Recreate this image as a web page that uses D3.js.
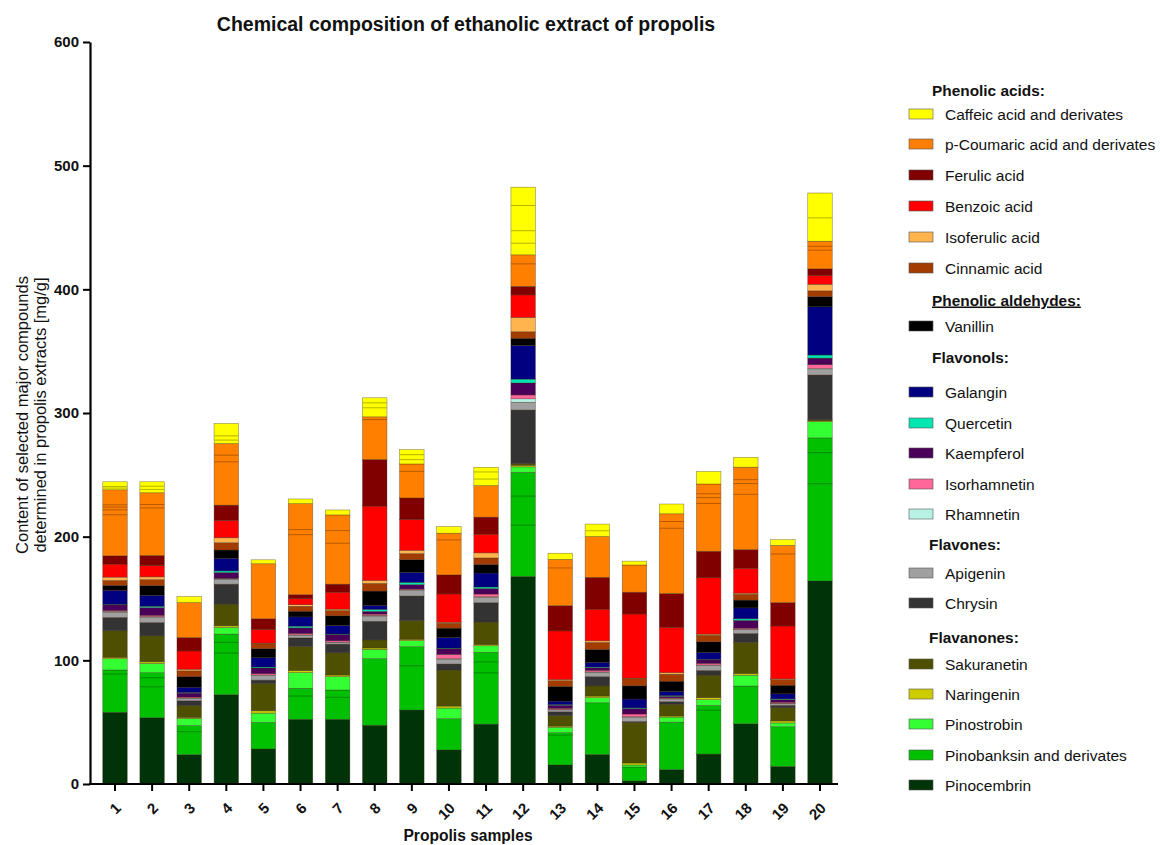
<!DOCTYPE html>
<html><head><meta charset="utf-8">
<script src="https://cdn.jsdelivr.net/npm/d3@7"></script>
<style>
body{margin:0;background:#fff}
text{font-family:"Liberation Sans",Arial,Helvetica,sans-serif;fill:#111}
</style>
</head><body>
<svg id="chart" width="1160" height="845"></svg>
<script>
// ---------- DATA ----------
const samples = ["1","2","3","4","5","6","7","8","9","10","11","12","13","14","15","16","17","18","19","20"];
const yTicks = [0,100,200,300,400,500,600];

const compounds = ["Caffeic acid and derivates","p-Coumaric acid and derivates","Ferulic acid","Benzoic acid","Isoferulic acid","Cinnamic acid","Vanillin","Galangin","Quercetin","Kaempferol","Isorhamnetin","Rhamnetin","Apigenin","Chrysin","Sakuranetin","Naringenin","Pinostrobin","Pinobanksin and derivates","Pinocembrin"];
const colors = ["#ffff00","#ff8000","#800000","#ff0000","#ffb44d","#a33c00","#000000","#000080","#00e6b0","#4a0058","#ff6699","#b8f2e4","#a0a0a0","#333333","#4f4f00","#cccc00","#33ff33","#00c000","#003308"];
const groups = ["Phenolic acids:","Phenolic aldehydes:","Flavonols:","Flavones:","Flavanones:"];

const caffeic      = [6.5,8.9,4.9,16.2,3.2,3.8,4.0,15.4,11.6,5.4,14.8,54.7,5.0,10.1,3.1,7.9,10.1,7.9,4.7,39.0];
const pCoumaric    = [53.4,50.7,28.3,49.8,44.5,73.6,56.0,34.5,27.5,33.7,25.5,25.5,37.4,33.0,22.0,64.5,54.4,66.7,46.2,22.3];
const ferulic      = [6.7,8.1,10.8,12.4,8.6,3.2,6.5,37.7,17.5,15.4,13.8,6.9,20.4,25.8,17.6,27.4,21.4,15.1,18.9,5.3];
const benzoic      = [10.5,9.2,14.8,14.0,11.1,4.9,13.7,60.1,24.8,22.9,15.1,18.2,39.3,25.5,51.9,36.5,45.6,20.1,42.8,7.2];
const isoferulic   = [2.7,2.2,1.3,4.0,0.5,1.3,1.1,2.4,2.7,0.8,4.1,11.6,0.9,1.3,0.5,1.3,0.9,0.9,0.5,5.3];
const cinnamic     = [4.0,4.9,4.6,5.9,4.0,4.0,4.3,6.2,4.9,4.0,5.3,5.3,4.7,5.7,5.7,5.7,5.3,4.7,4.7,4.7];
const vanillin     = [4.0,7.8,8.6,6.7,7.3,4.6,7.8,11.6,10.2,7.5,6.9,5.7,11.9,10.4,10.7,8.2,8.5,6.3,6.9,8.2];
const galangin     = [11.3,8.9,4.3,10.2,7.5,7.5,7.0,3.2,8.1,8.6,11.3,27.3,2.8,3.8,7.2,3.5,5.7,8.8,4.1,39.0];
const quercetin    = [0.5,1.1,0.5,1.3,0.8,1.3,0.5,1.6,1.9,0.5,1.3,3.1,0.5,0.5,0.5,0.5,0.5,1.3,0.5,2.5];
const kaempferol   = [4.5,6.2,3.2,4.6,4.6,4.6,4.9,2.2,3.5,4.6,4.4,9.7,2.5,2.2,4.4,1.3,2.8,6.3,2.2,5.3];
const isorhamnetin = [0.8,1.1,0.8,0.5,1.1,1.1,1.1,1.1,0.5,3.5,2.2,3.1,0.9,1.3,2.2,0.5,1.3,0.9,0.9,3.1];
const rhamnetin    = [0.5,0.4,0.3,0.3,0.3,0.3,0.3,0.4,0.3,0.5,0.4,2.8,0.3,0.3,0.3,0.3,0.3,0.3,0.3,0.9];
const apigenin     = [4.3,4.3,1.9,4.0,3.8,2.2,1.3,4.3,4.9,3.8,4.4,6.3,1.6,3.5,3.5,2.2,4.1,3.1,1.3,4.4];
const chrysin      = [10.8,10.8,4.0,16.2,2.7,7.0,7.0,15.1,19.9,4.9,15.7,43.4,3.1,7.5,0.9,2.2,3.8,7.2,1.9,36.2];
const sakuranetin  = [21.5,21.0,9.4,17.5,22.1,19.4,18.0,6.5,15.1,29.1,18.2,1.3,8.5,8.2,32.7,9.4,18.2,25.2,10.7,0.9];
const naringenin   = [1.1,1.3,0.8,1.3,1.9,1.6,1.3,1.1,1.1,1.6,0.9,1.3,0.9,1.3,1.6,0.9,1.6,1.3,1.6,0.5];
const pinostrobin  = [9.1,7.5,5.9,5.4,7.5,12.7,10.8,7.5,4.9,8.6,5.3,4.4,4.4,4.1,1.6,4.1,4.7,8.8,3.1,13.2];
const pinobanksin  = [34.2,36.4,23.5,49.0,21.5,25.1,23.7,53.9,51.2,25.3,58.1,84.2,26.1,41.8,11.3,38.4,39.3,30.5,32.1,115.7];
const pinocembrin  = [58.0,53.6,23.7,72.2,28.3,52.3,52.3,47.5,59.8,27.5,48.4,167.8,15.4,23.9,2.5,11.6,24.2,48.7,14.2,164.2];

const seriesValues = [caffeic,pCoumaric,ferulic,benzoic,isoferulic,cinnamic,vanillin,galangin,quercetin,kaempferol,isorhamnetin,rhamnetin,apigenin,chrysin,sakuranetin,naringenin,pinostrobin,pinobanksin,pinocembrin];

// cumulative amounts (from the bottom of a "derivates" segment) where its sub-components meet
// [sample, compound, [cumulative values]]
const derivateBreaks = [
  ["1","Caffeic acid and derivates",[1.4,2.7]],
  ["2","Caffeic acid and derivates",[2.7,5.3]],
  ["4","Caffeic acid and derivates",[2.8,6.2]],
  ["8","Caffeic acid and derivates",[7.3,11.3]],
  ["9","Caffeic acid and derivates",[3.5,7.5]],
  ["11","Caffeic acid and derivates",[5.3,11.0]],
  ["12","Caffeic acid and derivates",[9.4,19.5,39.9]],
  ["14","Caffeic acid and derivates",[4.7]],
  ["20","Caffeic acid and derivates",[18.9]],
  ["1","p-Coumaric acid and derivates",[33.2,37.2,39.4,41.2]],
  ["2","p-Coumaric acid and derivates",[38.4,41.2]],
  ["4","p-Coumaric acid and derivates",[35.0,40.4]],
  ["6","p-Coumaric acid and derivates",[48.5,52.6]],
  ["7","p-Coumaric acid and derivates",[33.1,43.3]],
  ["8","p-Coumaric acid and derivates",[32.3]],
  ["9","p-Coumaric acid and derivates",[21.5]],
  ["10","p-Coumaric acid and derivates",[28.3]],
  ["12","p-Coumaric acid and derivates",[18.2]],
  ["13","p-Coumaric acid and derivates",[30.5]],
  ["16","p-Coumaric acid and derivates",[52.8,58.2]],
  ["17","p-Coumaric acid and derivates",[38.7,43.4,46.5]],
  ["18","p-Coumaric acid and derivates",[44.7,53.5,56.6]],
  ["19","p-Coumaric acid and derivates",[39.3]],
  ["20","p-Coumaric acid and derivates",[15.1,18.2]],
  ["1","Pinobanksin and derivates",[31.0]],
  ["2","Pinobanksin and derivates",[25.0,32.3]],
  ["3","Pinobanksin and derivates",[18.6]],
  ["4","Pinobanksin and derivates",[33.7,42.3]],
  ["6","Pinobanksin and derivates",[18.8]],
  ["7","Pinobanksin and derivates",[17.8]],
  ["9","Pinobanksin and derivates",[35.8]],
  ["11","Pinobanksin and derivates",[41.5,50.3]],
  ["12","Pinobanksin and derivates",[41.5,65.0]],
  ["13","Pinobanksin and derivates",[24.2]],
  ["17","Pinobanksin and derivates",[35.5]],
  ["20","Pinobanksin and derivates",[78.6,103.8]]
];

// ---------- CHART ----------
const svg = d3.select("#chart");
const table = samples.map((s,i)=>{
  const row = {sample:s};
  compounds.forEach((c,k)=>{ row[c] = seriesValues[k][i]; });
  return row;
});
const stackKeys = compounds.slice().reverse(); // Pinocembrin at bottom
const stacked = d3.stack().keys(stackKeys)(table);
const color = d3.scaleOrdinal().domain(compounds).range(colors);

const y = d3.scaleLinear().domain([0,600]).range([784,42]);
const x = d3.scaleBand().domain(samples).range([96.45,838.55]).paddingInner(0.34).paddingOuter(0.17);

const plot = svg.append("g");
plot.selectAll("g.layer").data(stacked).join("g")
  .attr("class","layer")
  .attr("fill",d=>color(d.key))
  .selectAll("rect").data(d=>d).join("rect")
  .attr("x",d=>x(d.data.sample))
  .attr("width",x.bandwidth())
  .attr("y",d=>y(d[1]))
  .attr("height",d=>Math.max(0,y(d[0])-y(d[1])))
  .attr("stroke","#3a2a1a")
  .attr("stroke-opacity",0.55)
  .attr("stroke-width",0.6);

// internal sub-component lines
const layerByKey = {};
stacked.forEach(l=>{ layerByKey[l.key] = l; });
const breakLines = [];
derivateBreaks.forEach(([s,c,vals])=>{
  const seg = layerByKey[c][samples.indexOf(s)];
  vals.forEach(v=>breakLines.push({s, c, v: seg[0]+v}));
});
plot.selectAll("line.sub").data(breakLines).join("line")
  .attr("class","sub")
  .attr("x1",d=>x(d.s)).attr("x2",d=>x(d.s)+x.bandwidth())
  .attr("y1",d=>y(d.v)).attr("y2",d=>y(d.v))
  .attr("stroke",d=>d3.color(color(d.c)).darker(1.1))
  .attr("stroke-width",0.9);

// Y axis
const yAxis = svg.append("g").attr("transform","translate(90,0)")
  .call(d3.axisLeft(y).tickValues(yTicks).tickSize(7).tickPadding(4).tickSizeOuter(0));
yAxis.select(".domain").attr("stroke","#000").attr("stroke-width",2.2);
yAxis.selectAll(".tick line").attr("stroke","#000").attr("stroke-width",2);
yAxis.selectAll(".tick text").style("font-size","15px").style("font-weight","bold")
  .style("font-family","'Liberation Sans',Arial,sans-serif").attr("fill","#111");

// X axis
svg.append("line").attr("x1",89).attr("x2",838).attr("y1",784).attr("y2",784)
  .attr("stroke","#000").attr("stroke-width",2.2);
const xAxis = svg.append("g").attr("transform","translate(0,784)")
  .call(d3.axisBottom(x).tickSize(7).tickSizeOuter(0));
xAxis.select(".domain").remove();
xAxis.selectAll(".tick line").attr("stroke","#000").attr("stroke-width",2);
xAxis.selectAll(".tick text")
  .style("font-size","15px").style("font-weight","bold")
  .style("font-family","'Liberation Sans',Arial,sans-serif").attr("fill","#111")
  .attr("text-anchor","end").attr("dy",null).attr("y",0)
  .attr("transform","translate(7,25) rotate(-45)");

// Titles
svg.append("text").attr("x",466).attr("y",31).attr("text-anchor","middle")
  .style("font-size","19.5px").style("font-weight","bold")
  .text("Chemical composition of ethanolic extract of propolis");
svg.append("text").attr("x",468).attr("y",841).attr("text-anchor","middle")
  .style("font-size","15.6px").style("font-weight","bold").text("Propolis samples");
const yt = svg.append("text").attr("transform","translate(28,415) rotate(-90)")
  .attr("text-anchor","middle").style("font-size","16.5px");
yt.append("tspan").attr("x",0).attr("dy",0).text("Content of selected major compounds");
yt.append("tspan").attr("x",0).attr("dy","18").text("determined in propolis extracts [mg/g]");

// Legend
const legendY = {header:[90,300,357,544,637],
  item:[114,144,175,206,237,268,326,392,423,453,484,514,573,603,664,694,724,755,785]};
const lg = svg.append("g");
groups.forEach((g,i)=>{
  const t = lg.append("text").attr("x",i===3||i===4?929:932).attr("y",legendY.header[i]+5.5)
    .style("font-size","15.4px").style("font-weight","bold").text(g);
  if(i===1) t.style("text-decoration","underline");
});
compounds.forEach((c,k)=>{
  const yy = legendY.item[k];
  lg.append("rect").attr("x",909).attr("y",yy-5).attr("width",24).attr("height",10)
    .attr("fill",colors[k]).attr("stroke","#555").attr("stroke-width",0.6);
  lg.append("text").attr("x",945).attr("y",yy+5.5).style("font-size","15.5px").text(c);
});
</script>
</body></html>
